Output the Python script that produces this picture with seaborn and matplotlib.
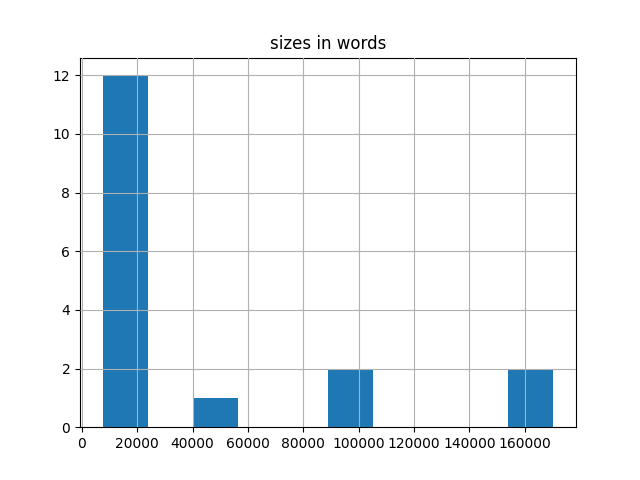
import numpy as np
import pandas as pd
import matplotlib
matplotlib.use('Agg')
import matplotlib.pyplot as plt
import seaborn as sns

# sizes of documents in words
sizes = [7500, 9200, 10400, 11800, 12600, 13900, 15100, 16300,
         17800, 19400, 21000, 22900,
         47300,
         94200, 97800,
         161000, 170400]

df = pd.DataFrame({'sizes in words': sizes})

fig, ax = plt.subplots(figsize=(6.4, 4.8), dpi=100)
sns.histplot(data=df, x='sizes in words', bins=10, ax=ax,
             color='#1f77b4', alpha=1, edgecolor='none', linewidth=0)
ax.grid(True, color='#b0b0b0', linewidth=0.8)
ax.set_axisbelow(False)
ax.set_title('sizes in words')
ax.set_xlabel('')
ax.set_ylabel('')

fig.savefig('out.png', dpi=100)
